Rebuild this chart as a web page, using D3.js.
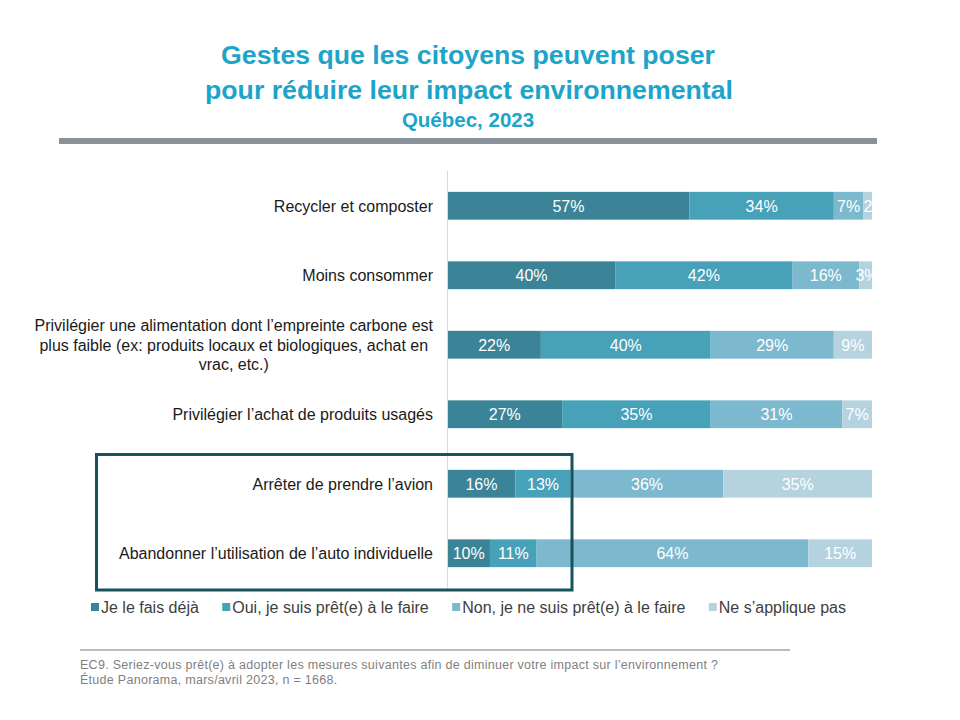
<!DOCTYPE html>
<html><head><meta charset="utf-8">
<script src="https://cdn.jsdelivr.net/npm/d3@7"></script>
<style>
html,body{margin:0;padding:0;background:#fff;}
text{font-family:"Liberation Sans",Arial,sans-serif;}
</style></head>
<body>
<svg id="c" width="960" height="720"></svg>
<script>
// ---- data ----
const categories = [
  "Recycler et composter",
  "Moins consommer",
  "Privilégier une alimentation dont l’empreinte carbone est\nplus faible (ex:  produits locaux  et biologiques, achat  en\nvrac, etc.)",
  "Privilégier l’achat de produits usagés",
  "Arrêter de prendre l’avion",
  "Abandonner  l’utilisation de l’auto individuelle"
];
const seriesNames = ["Je le fais déjà", "Oui, je suis prêt(e) à le faire", "Non, je ne suis prêt(e) à le faire", "Ne s’applique pas"];
const dejaFait = [57, 40, 22, 27, 16, 10];
const pret     = [34, 42, 40, 35, 13, 11];
const nonPret  = [7, 16, 29, 31, 36, 64];
const neSapplique = [2, 3, 9, 7, 35, 15];
const titleLines = ["Gestes que les citoyens peuvent poser", "pour réduire leur impact environnemental"];
const subtitle = "Québec, 2023";
const footnotes = ["EC9. Seriez-vous  prêt(e) à adopter les mesures suivantes afin de diminuer votre impact sur l’environnement  ?",
                   "Étude Panorama,  mars/avril 2023, n = 1668."];

// ---- layout ----
const colors = ["#3b8397", "#47a1b9", "#7db9ce", "#b5d3df"];
const svg = d3.select("#c");
const values = [dejaFait, pret, nonPret, neSapplique];
const rows = categories.map((c, i) => {
  const o = {cat: c};
  seriesNames.forEach((s, j) => o[s] = values[j][i]);
  return o;
});
const stacked = d3.stack().keys(seriesNames).offset(d3.stackOffsetExpand)(rows);

const x = d3.scaleLinear().domain([0, 1]).range([447.5, 872]);
const y = d3.scaleBand().domain(categories).range([171, 588]).paddingInner(0.6).paddingOuter(0.3);

// title
const titleColor = "#1da4c9";
svg.append("text").attr("x", 468).attr("y", 64).attr("text-anchor", "middle")
  .attr("font-size", 26.7).attr("font-weight", "bold").attr("fill", titleColor).text(titleLines[0]);
svg.append("text").attr("x", 469).attr("y", 99).attr("text-anchor", "middle")
  .attr("font-size", 26.7).attr("font-weight", "bold").attr("fill", titleColor).text(titleLines[1]);
svg.append("text").attr("x", 468).attr("y", 127).attr("text-anchor", "middle")
  .attr("font-size", 20.5).attr("font-weight", "bold").attr("fill", titleColor).text(subtitle);
svg.append("rect").attr("x", 59).attr("y", 138).attr("width", 818).attr("height", 6).attr("fill", "#88939b");

// clip
svg.append("defs").append("clipPath").attr("id", "plotclip")
  .append("rect").attr("x", 440).attr("y", 160).attr("width", x(1) - 440 + 0.5).attr("height", 440);

// bars
const g = svg.append("g");
stacked.forEach((layer, j) => {
  g.selectAll(null).data(layer).enter().append("rect")
    .attr("x", d => x(d[0])).attr("width", d => x(d[1]) - x(d[0]))
    .attr("y", d => y(d.data.cat)).attr("height", y.bandwidth())
    .attr("fill", colors[j]);
});

// axis line
svg.append("line").attr("x1", 447.5).attr("x2", 447.5).attr("y1", 171).attr("y2", 589)
  .attr("stroke", "#d9d9d9").attr("stroke-width", 1);

// value labels
const lg = svg.append("g").attr("clip-path", "url(#plotclip)");
stacked.forEach((layer, j) => {
  layer.forEach((d, i) => {
    const x0 = x(d[0]), x1 = x(d[1]);
    const t = lg.append("text").attr("y", y(d.data.cat) + y.bandwidth() / 2)
      .attr("dy", "0.36em").attr("font-size", 16).attr("fill", "#fff")
      .text(values[j][i] + "%");
    const w = t.node().getComputedTextLength();
    if (w > x1 - x0 - 2) {
      t.attr("x", x0 - (j === 3 && x1 - x0 > 10 ? 4 : 0)).attr("text-anchor", "start");
    } else {
      t.attr("x", (x0 + x1) / 2).attr("text-anchor", "middle");
    }
  });
});

// category labels
const labelRight = 433;
categories.forEach(c => {
  const lines = c.split("\n");
  const cy = y(c) + y.bandwidth() / 2;
  const lh = 19.5;
  const grp = svg.append("g");
  const ts = lines.map((ln, k) => grp.append("text")
    .attr("y", cy + (k - (lines.length - 1) / 2) * lh).attr("dy", "0.36em")
    .attr("font-size", 16).attr("fill", "#1a1a1a").text(ln));
  if (lines.length === 1) {
    ts[0].attr("x", labelRight).attr("text-anchor", "end");
  } else {
    const maxW = d3.max(ts, t => t.node().getComputedTextLength());
    ts.forEach(t => t.attr("x", labelRight - maxW / 2).attr("text-anchor", "middle"));
  }
});

// highlight box
svg.append("rect").attr("x", 96.5).attr("y", 454.5).attr("width", 475.5).attr("height", 135.5)
  .attr("fill", "none").attr("stroke", "#17525f").attr("stroke-width", 3);

// legend
const legStart = 91, legEnd = 846, legY = 607;
const items = seriesNames.map((s, j) => {
  const gi = svg.append("g");
  gi.append("rect").attr("x", 0).attr("y", -4).attr("width", 8).attr("height", 8).attr("fill", colors[j]);
  const t = gi.append("text").attr("x", 10).attr("y", 0).attr("dy", "0.36em")
    .attr("font-size", 16).attr("fill", "#404040").text(s);
  return {gi, w: 10 + t.node().getComputedTextLength()};
});
const totalW = d3.sum(items, d => d.w);
const gap = (legEnd - legStart - totalW) / (items.length - 1);
let cx = legStart;
items.forEach(it => { it.gi.attr("transform", `translate(${cx},${legY})`); cx += it.w + gap; });

// footer
svg.append("line").attr("x1", 80).attr("x2", 790).attr("y1", 650).attr("y2", 650)
  .attr("stroke", "#a6a6a6").attr("stroke-width", 1.5);
footnotes.forEach((f, k) => {
  svg.append("text").attr("x", 80).attr("y", 669 + k * 15).attr("font-size", 12.5)
    .attr("letter-spacing", "0.28px")
    .attr("fill", "#7f7f7f").text(f);
});
</script>
</body></html>
